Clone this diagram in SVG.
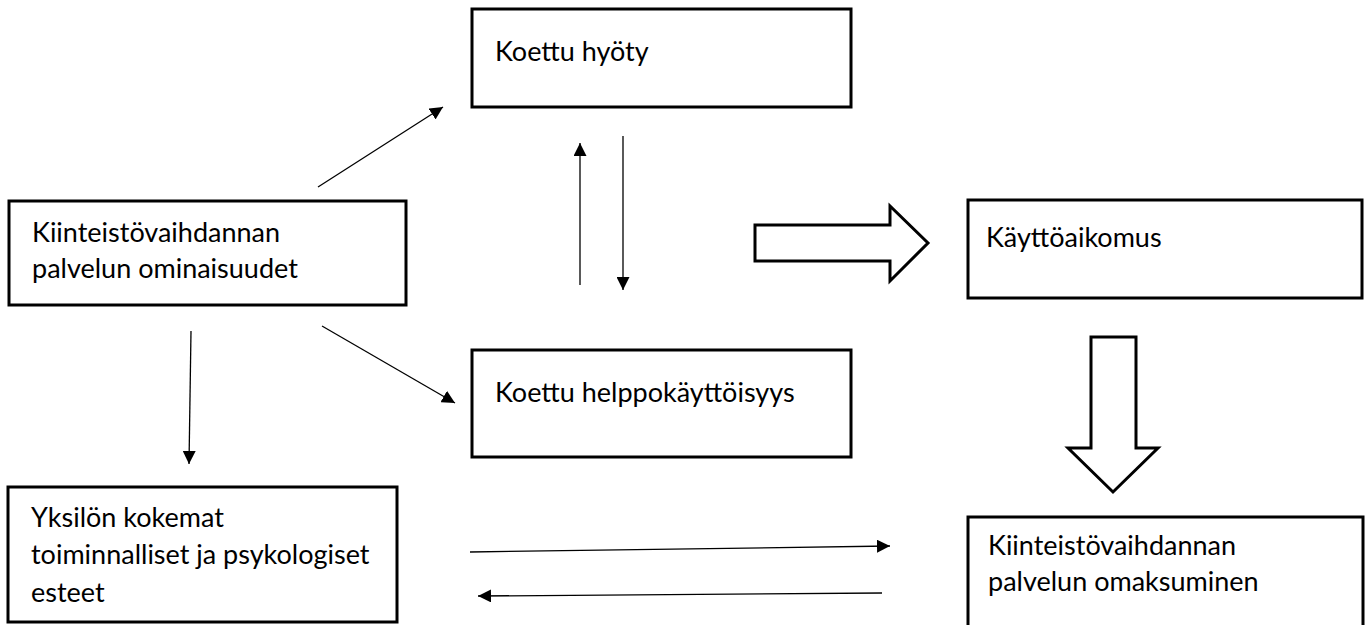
<svg xmlns="http://www.w3.org/2000/svg" width="1370" height="625" viewBox="0 0 1370 625">
<style>
.box{fill:#fff;stroke:#000;stroke-width:3}
.t{font-family:Lato,"Open Sans","Liberation Sans",sans-serif;font-size:27px;fill:#000}
.c{stroke:#000;stroke-width:1.3;fill:none}
.big{fill:#fff;stroke:#000;stroke-width:3;stroke-linejoin:miter}
</style>
<defs>
<marker id="ah" viewBox="0 0 10 10" refX="10" refY="5" markerWidth="13" markerHeight="13" markerUnits="userSpaceOnUse" orient="auto"><path d="M0,0 L10,5 L0,10 Z" fill="#000"/></marker>
</defs>
<rect width="1370" height="625" fill="#fff"/>
<g id="hyoty"><rect class="box" x="472" y="9" width="379" height="98"/><text class="t" x="495" y="61">Koettu hyöty</text></g>
<g id="ominaisuudet"><rect class="box" x="9" y="201" width="397" height="104"/><text class="t" x="32" y="242">Kiinteistövaihdannan</text><text class="t" x="32" y="278">palvelun ominaisuudet</text></g>
<g id="kayttoaikomus"><rect class="box" x="968" y="200" width="394" height="98"/><text class="t" x="986" y="247">Käyttöaikomus</text></g>
<g id="helppokayttoisyys"><rect class="box" x="472" y="350" width="379" height="107"/><text class="t" x="495" y="402">Koettu helppokäyttöisyys</text></g>
<g id="esteet"><rect class="box" x="8" y="487" width="389" height="135"/><text class="t" x="31" y="527">Yksilön kokemat</text><text class="t" x="31" y="564">toiminnalliset ja psykologiset</text><text class="t" x="31" y="602">esteet</text></g>
<g id="omaksuminen"><rect class="box" x="968" y="517" width="395" height="120"/><text class="t" x="988" y="555">Kiinteistövaihdannan</text><text class="t" x="988" y="591">palvelun omaksuminen</text></g>
<g id="connectors">
<line class="c" x1="318" y1="187" x2="443" y2="107" marker-end="url(#ah)"/>
<line class="c" x1="580" y1="285" x2="580" y2="143" marker-end="url(#ah)"/>
<line class="c" x1="623" y1="136" x2="623" y2="290" marker-end="url(#ah)"/>
<line class="c" x1="191" y1="331" x2="189" y2="464" marker-end="url(#ah)"/>
<line class="c" x1="322" y1="326" x2="455" y2="403" marker-end="url(#ah)"/>
<line class="c" x1="470" y1="552" x2="890" y2="546" marker-end="url(#ah)"/>
<line class="c" x1="882" y1="593" x2="478" y2="596" marker-end="url(#ah)"/>
<path class="big" d="M755,225 L890,225 L890,206 L928,243 L890,281 L890,261 L755,261 Z"/>
<path class="big" d="M1091,337 L1136,337 L1136,448 L1158,448 L1113,492 L1068,448 L1091,448 Z"/>
</g>
</svg>
